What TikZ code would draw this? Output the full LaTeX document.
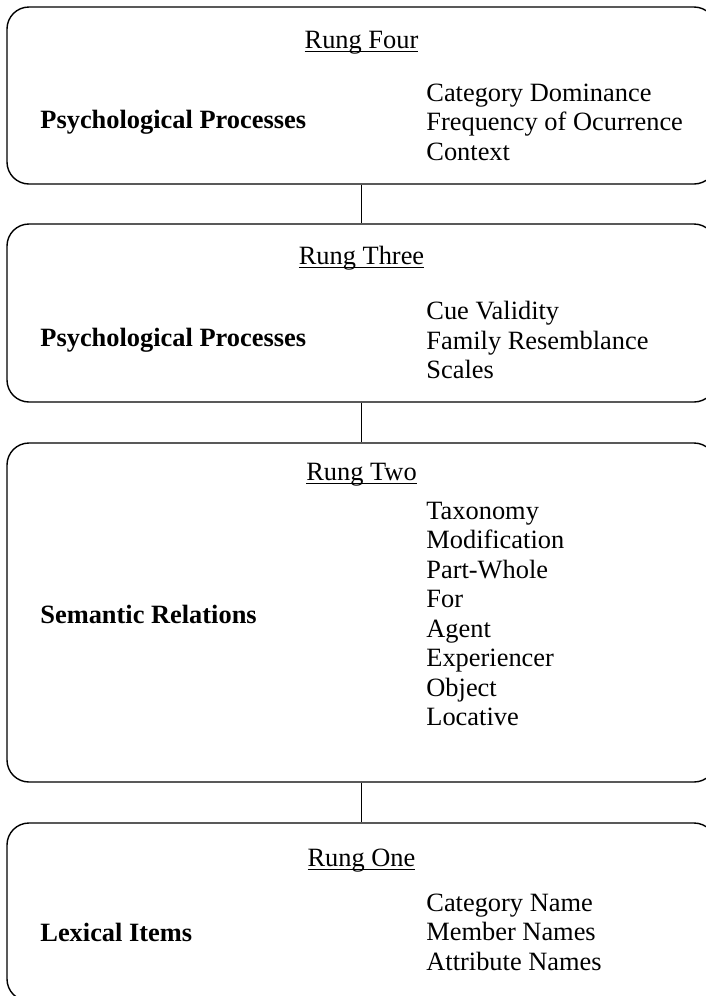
\documentclass[tikz,border=0pt]{standalone}
\usepackage{fontspec}
\setmainfont{Liberation Serif}
\usetikzlibrary{positioning}

\newcommand{\ulrung}[1]{\setbox0\hbox{#1}\rlap{\rule[-1.8pt]{\wd0}{0.5pt}}\box0}

\begin{document}
\begin{tikzpicture}[
    x=0.5pt, y=-0.5pt,
    rung/.style={draw=black, line width=0.7pt, rounded corners=11pt, minimum width=354.5pt, inner sep=0pt},
    rung title/.style={font=\fontsize{13.2}{14.75}\selectfont, anchor=base, inner sep=0pt},
    rung label/.style={font=\fontsize{13.2}{14.75}\selectfont\bfseries, anchor=west, inner sep=0pt},
    rung items/.style={font=\fontsize{13.2}{14.75}\selectfont, align=left, anchor=west, inner sep=0pt},
    link/.style={draw=black, line width=0.7pt}
]

\useasboundingbox (0,0) rectangle (706,996);
\clip (0,0) rectangle (706,996);

\node[rung, minimum height=88.5pt] (r4) at (361.5,95.5) {};
\node[rung, minimum height=89pt] (r3) at (361.5,313) {};
\node[rung, minimum height=169.5pt] (r2) at (361.5,612.5) {};
\node[rung, minimum height=89pt] (r1) at (361.5,912) {};

\node[rung title] (t4) at (361.5,48) {\ulrung{Rung Four}};
\node[rung label] (l4) at (40,122) {Psychological Processes};
\node[rung items] (i4) at (426,122) {Category Dominance\\Frequency of Ocurrence\\Context};

\node[rung title] (t3) at (361.5,264) {\ulrung{Rung Three}};
\node[rung label] (l3) at (40,340) {Psychological Processes};
\node[rung items] (i3) at (426,340) {Cue Validity\\Family Resemblance\\Scales};

\node[rung title] (t2) at (361.5,480) {\ulrung{Rung Two}};
\node[rung label] (l2) at (40,614) {Semantic Relations};
\node[rung items] (i2) at (426,614) {Taxonomy\\Modification\\Part-Whole\\For\\Agent\\Experiencer\\Object\\Locative};

\node[rung title] (t1) at (361.5,866) {\ulrung{Rung One}};
\node[rung label] (l1) at (40,932) {Lexical Items};
\node[rung items] (i1) at (426,932) {Category Name\\Member Names\\Attribute Names};

\draw[link] (r4) -- (r3);
\draw[link] (r3) -- (r2);
\draw[link] (r2) -- (r1);

\end{tikzpicture}
\end{document}
